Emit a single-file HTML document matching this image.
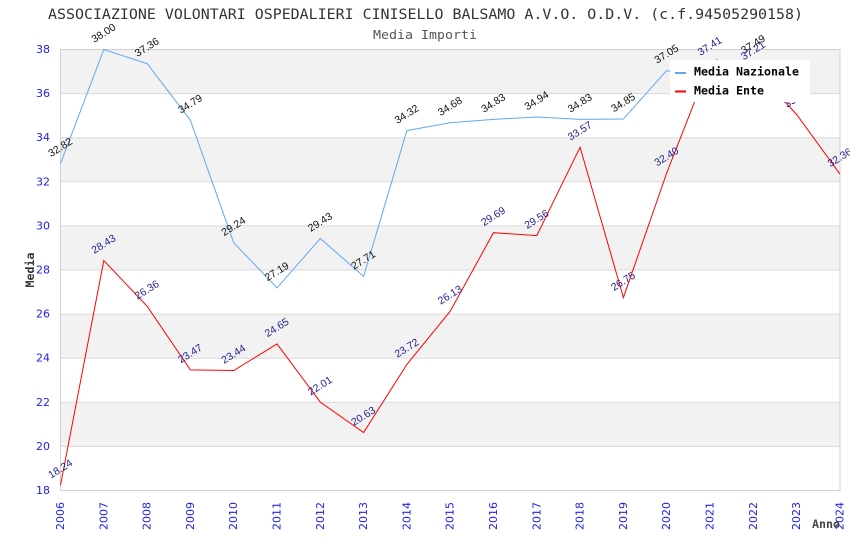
<!DOCTYPE html>
<html><head><meta charset="utf-8"><style>
html,body{margin:0;padding:0;background:#fff;}
svg{display:block;}
</style></head><body>
<svg width="850" height="550" viewBox="0 0 850 550" xmlns="http://www.w3.org/2000/svg">
<rect x="0" y="0" width="850" height="550" fill="#fff"/>
<!-- title -->
<text x="48" y="19" font-family="DejaVu Sans Mono, Liberation Mono, monospace" font-size="14" fill="#333" textLength="755" lengthAdjust="spacingAndGlyphs">ASSOCIAZIONE VOLONTARI OSPEDALIERI CINISELLO BALSAMO A.V.O. O.D.V. (c.f.94505290158)</text>
<text x="373" y="39" font-family="DejaVu Sans Mono, Liberation Mono, monospace" font-size="12.5" fill="#555" textLength="104" lengthAdjust="spacingAndGlyphs">Media Importi</text>
<!-- bands -->
<g fill="#f2f2f2">
<rect x="60.5" y="49.5" width="779.5" height="44.1"/>
<rect x="60.5" y="137.7" width="779.5" height="44.1"/>
<rect x="60.5" y="225.9" width="779.5" height="44.1"/>
<rect x="60.5" y="314.1" width="779.5" height="44.1"/>
<rect x="60.5" y="402.3" width="779.5" height="44.1"/>
</g>
<g stroke="#dadada" stroke-width="1">
<line x1="60.5" x2="840" y1="93.6" y2="93.6"/>
<line x1="60.5" x2="840" y1="137.7" y2="137.7"/>
<line x1="60.5" x2="840" y1="181.8" y2="181.8"/>
<line x1="60.5" x2="840" y1="225.9" y2="225.9"/>
<line x1="60.5" x2="840" y1="270" y2="270"/>
<line x1="60.5" x2="840" y1="314.1" y2="314.1"/>
<line x1="60.5" x2="840" y1="358.2" y2="358.2"/>
<line x1="60.5" x2="840" y1="402.3" y2="402.3"/>
<line x1="60.5" x2="840" y1="446.4" y2="446.4"/>
</g>
<rect x="60.5" y="49.5" width="779.5" height="441" fill="none" stroke="#d0d0d0" stroke-width="1"/>
<!-- y ticks -->
<g font-family="DejaVu Sans, Verdana, sans-serif" font-size="11" fill="#2020f0" text-anchor="end" dominant-baseline="central">
<text x="50" y="49.5">38</text>
<text x="50" y="93.6">36</text>
<text x="50" y="137.7">34</text>
<text x="50" y="181.8">32</text>
<text x="50" y="225.9">30</text>
<text x="50" y="270">28</text>
<text x="50" y="314.1">26</text>
<text x="50" y="358.2">24</text>
<text x="50" y="402.3">22</text>
<text x="50" y="446.4">20</text>
<text x="50" y="490.5">18</text>
</g>
<!-- x ticks -->
<g font-family="DejaVu Sans, Verdana, sans-serif" font-size="11" fill="#2020f0" text-anchor="end" dominant-baseline="central">
<text transform="translate(60.5,502) rotate(-90)">2006</text>
<text transform="translate(103.8,502) rotate(-90)">2007</text>
<text transform="translate(147.1,502) rotate(-90)">2008</text>
<text transform="translate(190.4,502) rotate(-90)">2009</text>
<text transform="translate(233.7,502) rotate(-90)">2010</text>
<text transform="translate(277,502) rotate(-90)">2011</text>
<text transform="translate(320.3,502) rotate(-90)">2012</text>
<text transform="translate(363.6,502) rotate(-90)">2013</text>
<text transform="translate(406.9,502) rotate(-90)">2014</text>
<text transform="translate(450.2,502) rotate(-90)">2015</text>
<text transform="translate(493.5,502) rotate(-90)">2016</text>
<text transform="translate(536.8,502) rotate(-90)">2017</text>
<text transform="translate(580.1,502) rotate(-90)">2018</text>
<text transform="translate(623.4,502) rotate(-90)">2019</text>
<text transform="translate(666.7,502) rotate(-90)">2020</text>
<text transform="translate(710,502) rotate(-90)">2021</text>
<text transform="translate(753.3,502) rotate(-90)">2022</text>
<text transform="translate(796.6,502) rotate(-90)">2023</text>
<text transform="translate(839.9,502) rotate(-90)">2024</text>
</g>
<!-- axis titles -->
<text transform="translate(30,270) rotate(-90)" font-family="DejaVu Sans Mono, Liberation Mono, monospace" font-weight="bold" font-size="11.5" fill="#333" text-anchor="middle" dominant-baseline="central" textLength="35" lengthAdjust="spacingAndGlyphs">Media</text>
<text x="812" y="528" font-family="DejaVu Sans Mono, Liberation Mono, monospace" font-weight="bold" font-size="11.5" fill="#444" textLength="28" lengthAdjust="spacingAndGlyphs">Anno</text>
<!-- series -->
<polyline fill="none" stroke="#62a8f0" stroke-width="1" points="60.5,163.7 103.8,49.5 147.1,63.6 190.4,120.3 233.7,242.7 277,287.9 320.3,238.5 363.6,276.4 406.9,130.6 450.2,122.7 493.5,119.4 536.8,117 580.1,119.4 623.4,119 666.7,70.4 710,84.6 753.3,60.7"/>
<polyline fill="none" stroke="#ff0000" stroke-width="1" points="60.5,485.2 103.8,260.5 147.1,306.2 190.4,369.9 233.7,370.5 277,343.9 320.3,402.1 363.6,432.5 406.9,364.4 450.2,311.2 493.5,232.7 536.8,235.6 580.1,147.2 623.4,297.6 666.7,173 710,62.5 753.3,66.9 796.6,114.5 839.9,173.9"/>
<!-- labels nazionale -->
<g font-family="Liberation Sans, Arial, sans-serif" font-size="10.5" fill="#111" text-anchor="middle" dominant-baseline="central">
<text transform="translate(60.5,147.7) rotate(-32)">32.82</text>
<text transform="translate(103.8,33.5) rotate(-32)">38.00</text>
<text transform="translate(147.1,47.6) rotate(-32)">37.36</text>
<text transform="translate(190.4,104.3) rotate(-32)">34.79</text>
<text transform="translate(233.7,226.7) rotate(-32)">29.24</text>
<text transform="translate(277,271.9) rotate(-32)">27.19</text>
<text transform="translate(320.3,222.5) rotate(-32)">29.43</text>
<text transform="translate(363.6,260.4) rotate(-32)">27.71</text>
<text transform="translate(406.9,114.6) rotate(-32)">34.32</text>
<text transform="translate(450.2,106.7) rotate(-32)">34.68</text>
<text transform="translate(493.5,103.4) rotate(-32)">34.83</text>
<text transform="translate(536.8,101) rotate(-32)">34.94</text>
<text transform="translate(580.1,103.4) rotate(-32)">34.83</text>
<text transform="translate(623.4,103) rotate(-32)">34.85</text>
<text transform="translate(666.7,54.4) rotate(-32)">37.05</text>
<text transform="translate(710,68.6) rotate(-32)">36.41</text>
<text transform="translate(753.3,44.7) rotate(-32)">37.49</text>
</g>
<!-- labels ente -->
<g font-family="Liberation Sans, Arial, sans-serif" font-size="10.5" fill="#1e1e8c" text-anchor="middle" dominant-baseline="central">
<text transform="translate(60.5,469.2) rotate(-32)">18.24</text>
<text transform="translate(103.8,244.5) rotate(-32)">28.43</text>
<text transform="translate(147.1,290.2) rotate(-32)">26.36</text>
<text transform="translate(190.4,353.9) rotate(-32)">23.47</text>
<text transform="translate(233.7,354.5) rotate(-32)">23.44</text>
<text transform="translate(277,327.9) rotate(-32)">24.65</text>
<text transform="translate(320.3,386.1) rotate(-32)">22.01</text>
<text transform="translate(363.6,416.5) rotate(-32)">20.63</text>
<text transform="translate(406.9,348.4) rotate(-32)">23.72</text>
<text transform="translate(450.2,295.2) rotate(-32)">26.13</text>
<text transform="translate(493.5,216.7) rotate(-32)">29.69</text>
<text transform="translate(536.8,219.6) rotate(-32)">29.56</text>
<text transform="translate(580.1,131.2) rotate(-32)">33.57</text>
<text transform="translate(623.4,281.6) rotate(-32)">26.75</text>
<text transform="translate(666.7,157) rotate(-32)">32.40</text>
<text transform="translate(710,46.5) rotate(-32)">37.41</text>
<text transform="translate(753.3,50.9) rotate(-32)">37.21</text>
<text transform="translate(796.6,98.5) rotate(-32)">35.05</text>
<text transform="translate(839.9,157.9) rotate(-32)">32.36</text>
</g>
<!-- legend -->
<rect x="670" y="60" width="140" height="42" fill="#fff"/>
<line x1="675" x2="686" y1="73" y2="73" stroke="#62a8f0" stroke-width="2"/>
<line x1="675" x2="686" y1="91.5" y2="91.5" stroke="#ff0000" stroke-width="2"/>
<text x="694" y="71.3" font-family="DejaVu Sans Mono, Liberation Mono, monospace" font-weight="bold" font-size="11.5" fill="#000" dominant-baseline="central" textLength="105" lengthAdjust="spacingAndGlyphs">Media Nazionale</text>
<text x="694" y="90.3" font-family="DejaVu Sans Mono, Liberation Mono, monospace" font-weight="bold" font-size="11.5" fill="#000" dominant-baseline="central" textLength="70" lengthAdjust="spacingAndGlyphs">Media Ente</text>
</svg>
</body></html>
